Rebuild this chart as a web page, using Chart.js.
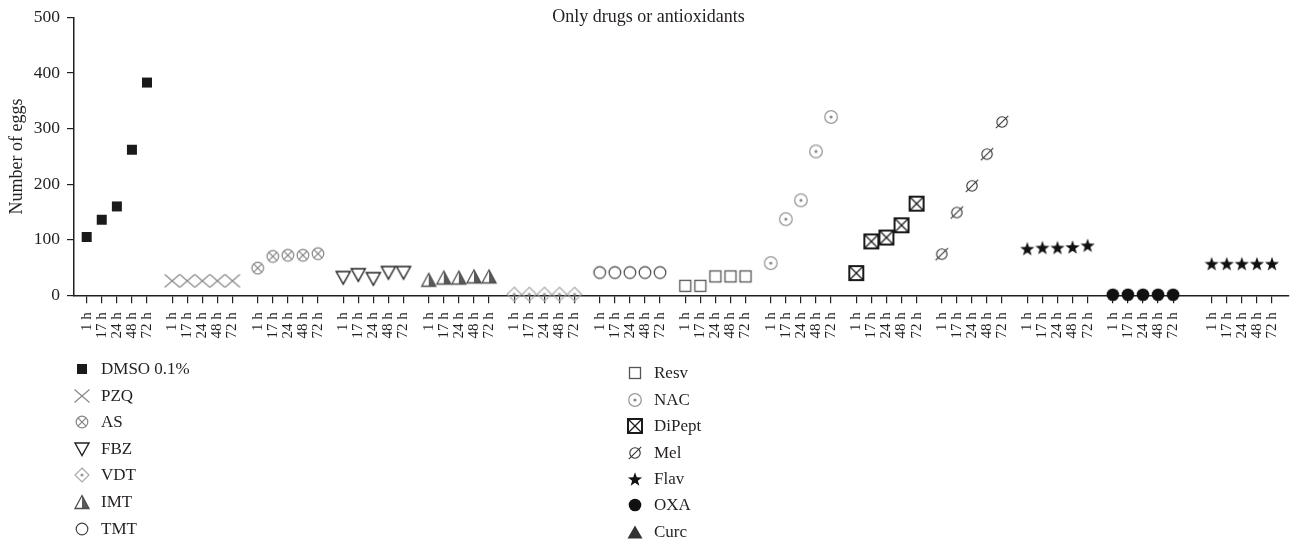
<!DOCTYPE html>
<html>
<head>
<meta charset="utf-8">
<title>Only drugs or antioxidants</title>
<script src="https://cdn.jsdelivr.net/npm/chart.js@4.4.1/dist/chart.umd.min.js"></script>
<style>
  body { margin: 0; background: #fff; }
  #wrap { position: relative; width: 1297px; height: 546px; font-family: "Liberation Serif", "DejaVu Serif", serif; color: #231f20; }
  #eggChart { position: absolute; left: 0; top: 0; }
  #title { position: absolute; left: 0; top: 5px; width: 1297px; text-align: center; font-size: 18px; line-height: 22px; }
  .leg { position: absolute; font-size: 17px; line-height: 20px; white-space: nowrap; }
</style>
</head>
<body>
<div id="wrap">
  <canvas id="eggChart" width="1297" height="546"></canvas>
  <div id="title">Only drugs or antioxidants</div>
  <div id="legend"></div>
</div>
<script>
// values (number of eggs)
const timeLabels = ['1 h', '17 h', '24 h', '48 h', '72 h'];
const seriesNames = ['DMSO 0.1%', 'PZQ', 'AS', 'FBZ', 'IMT', 'VDT', 'TMT', 'Resv', 'NAC', 'DiPept', 'Mel', 'Flav', 'OXA', 'Curc'];
const dmsoEggs = [105, 136, 160, 262, 383];
const pzqEggs = [26, 26, 26, 26, 26];
const asEggs = [49, 70, 72, 72, 75];
const fbzEggs = [32, 37, 30, 41, 41];
const imtEggs = [28, 32, 32, 34, 34];
const vdtEggs = [2, 2, 2, 2, 2];
const tmtEggs = [41, 41, 41, 41, 41];
const resvEggs = [17, 17, 34, 34, 34];
const nacEggs = [58, 137, 171, 259, 321];
const dipeptEggs = [40, 97, 104, 126, 165];
const melEggs = [74, 149, 197, 254, 312];
const flavEggs = [84, 86, 86, 87, 90];
const oxaEggs = [1, 1, 1, 1, 1];
const curcEggs = [57, 57, 57, 57, 57];
const yTicks = [0, 100, 200, 300, 400, 500];

const allEggs = [dmsoEggs, pzqEggs, asEggs, fbzEggs, imtEggs, vdtEggs, tmtEggs,
                 resvEggs, nacEggs, dipeptEggs, melEggs, flavEggs, oxaEggs, curcEggs];

// marker per series (the figure draws Curc with stars, its legend with a triangle)
const chartMarkers = ['fsquare', 'cross', 'ocross', 'dtri', 'htri', 'diamond', 'ocircle',
                      'osquare', 'dcircle', 'xsquare', 'slash', 'star', 'fcircle', 'star'];
const legendMarkers = ['fsquare', 'cross', 'ocross', 'dtri', 'htri', 'diamond', 'ocircle',
                       'osquare', 'dcircle', 'xsquare', 'slash', 'star', 'fcircle', 'ftri'];
const leftLegend = ['DMSO 0.1%', 'PZQ', 'AS', 'FBZ', 'VDT', 'IMT', 'TMT'];
const rightLegend = ['Resv', 'NAC', 'DiPept', 'Mel', 'Flav', 'OXA', 'Curc'];

// x axis layout, in "time step" units
const GROUP_STEP = 5.672;
const LAST_GROUP_EXTRA = 0.884;

function xPos(g, i) {
    const extra = g === allEggs.length - 1 ? LAST_GROUP_EXTRA : 0;
    return g * GROUP_STEP + extra + i;
}

function line(ctx, x1, y1, x2, y2) {
    ctx.beginPath();
    ctx.moveTo(x1, y1);
    ctx.lineTo(x2, y2);
    ctx.stroke();
}

function drawMarker(kind) {
    const c = document.createElement('canvas');
    c.width = 18;
    c.height = 18;
    const ctx = c.getContext('2d');
    ctx.translate(9, 9);
    switch (kind) {
        case 'fsquare':
            ctx.fillStyle = '#1a1a1a';
            ctx.fillRect(-5, -5, 10, 10);
            break;
        case 'cross':
            ctx.strokeStyle = '#8a8a8a';
            ctx.lineWidth = 1.2;
            line(ctx, -7.5, -6.5, 7.5, 6.5);
            line(ctx, -7.5, 6.5, 7.5, -6.5);
            break;
        case 'ocross':
            ctx.strokeStyle = '#858585';
            ctx.lineWidth = 1.2;
            ctx.beginPath();
            ctx.arc(0, 0, 5.8, 0, Math.PI * 2);
            ctx.stroke();
            line(ctx, -4.1, -4.1, 4.1, 4.1);
            line(ctx, -4.1, 4.1, 4.1, -4.1);
            break;
        case 'dtri':
            ctx.strokeStyle = '#231f20';
            ctx.lineWidth = 1.4;
            ctx.beginPath();
            ctx.moveTo(-7, -6);
            ctx.lineTo(7, -6);
            ctx.lineTo(0, 6.5);
            ctx.closePath();
            ctx.stroke();
            break;
        case 'htri':
            ctx.fillStyle = '#ffffff';
            ctx.beginPath();
            ctx.moveTo(0, -6.5); ctx.lineTo(-7, 6.5); ctx.lineTo(0, 6.5); ctx.closePath();
            ctx.fill();
            ctx.fillStyle = '#5a5a5a';
            ctx.beginPath();
            ctx.moveTo(0, -6.5); ctx.lineTo(7, 6.5); ctx.lineTo(0, 6.5); ctx.closePath();
            ctx.fill();
            ctx.strokeStyle = '#4d4d4d';
            ctx.lineWidth = 1.3;
            ctx.beginPath();
            ctx.moveTo(0, -6.5); ctx.lineTo(7, 6.5); ctx.lineTo(-7, 6.5); ctx.closePath();
            ctx.stroke();
            break;
        case 'diamond':
            ctx.strokeStyle = '#a8a8a8';
            ctx.lineWidth = 1.2;
            ctx.beginPath();
            ctx.moveTo(0, -7); ctx.lineTo(7, 0); ctx.lineTo(0, 7); ctx.lineTo(-7, 0); ctx.closePath();
            ctx.stroke();
            ctx.fillStyle = '#9a9a9a';
            ctx.beginPath();
            ctx.arc(0, 0, 1.6, 0, Math.PI * 2);
            ctx.fill();
            break;
        case 'ocircle':
            ctx.strokeStyle = '#444';
            ctx.lineWidth = 1.2;
            ctx.beginPath();
            ctx.arc(0, 0, 5.8, 0, Math.PI * 2);
            ctx.stroke();
            break;
        case 'osquare':
            ctx.strokeStyle = '#555';
            ctx.lineWidth = 1.3;
            ctx.strokeRect(-5.5, -5.5, 11, 11);
            break;
        case 'dcircle':
            ctx.strokeStyle = '#9a9a9a';
            ctx.lineWidth = 1.3;
            ctx.beginPath();
            ctx.arc(0, 0, 6.3, 0, Math.PI * 2);
            ctx.stroke();
            ctx.fillStyle = '#8a8a8a';
            ctx.beginPath();
            ctx.arc(0, 0, 1.6, 0, Math.PI * 2);
            ctx.fill();
            break;
        case 'xsquare':
            ctx.strokeStyle = '#1a1a1a';
            ctx.lineWidth = 2;
            ctx.strokeRect(-7, -7, 14, 14);
            ctx.lineWidth = 1.2;
            line(ctx, -6, -6, 6, 6);
            line(ctx, -6, 6, 6, -6);
            break;
        case 'slash':
            ctx.strokeStyle = '#333';
            ctx.lineWidth = 1.1;
            ctx.beginPath();
            ctx.arc(0, 0, 5.2, 0, Math.PI * 2);
            ctx.stroke();
            line(ctx, -6.2, 6.2, 6.2, -6.2);
            break;
        case 'star': {
            ctx.fillStyle = '#111';
            ctx.beginPath();
            for (let k = 0; k < 10; k++) {
                const r = k % 2 === 0 ? 7.4 : 3;
                const a = -Math.PI / 2 + k * Math.PI / 5;
                const px = r * Math.cos(a);
                const py = r * Math.sin(a) + 0.7;
                if (k === 0) ctx.moveTo(px, py); else ctx.lineTo(px, py);
            }
            ctx.closePath();
            ctx.fill();
            break;
        }
        case 'fcircle':
            ctx.fillStyle = '#111';
            ctx.beginPath();
            ctx.arc(0, 0, 6.3, 0, Math.PI * 2);
            ctx.fill();
            break;
        case 'ftri':
            ctx.fillStyle = '#333';
            ctx.beginPath();
            ctx.moveTo(0, -6.5); ctx.lineTo(7.5, 6.5); ctx.lineTo(-7.5, 6.5); ctx.closePath();
            ctx.fill();
            break;
    }
    return c;
}

const xTickValues = [];
allEggs.forEach((vals, g) => vals.forEach((v, i) => xTickValues.push(xPos(g, i))));

const datasets = allEggs.map((vals, g) => ({
    label: seriesNames[g],
    data: vals.map((v, i) => ({ x: xPos(g, i), y: v })),
    pointStyle: drawMarker(chartMarkers[g]),
    pointRadius: 7,
    showLine: false,
    clip: false
}));

const inkColor = '#231f20';

new Chart(document.getElementById('eggChart'), {
    type: 'scatter',
    data: { datasets: datasets },
    options: {
        responsive: false,
        animation: false,
        events: [],
        layout: { padding: { top: 17.3, right: 6, bottom: 200.7, left: 0 } },
        plugins: {
            legend: { display: false },
            tooltip: { enabled: false }
        },
        scales: {
            x: {
                type: 'linear',
                min: -0.84,
                max: 79.75,
                afterBuildTicks: axis => { axis.ticks = xTickValues.map(v => ({ value: v })); },
                afterFit: axis => {
                    axis.height = 50;
                    axis.paddingLeft = 0;
                    axis.paddingRight = 0;
                },
                border: { display: true, color: inkColor, width: 1.5 },
                grid: { display: true, drawOnChartArea: false, drawTicks: true, tickLength: 8, color: inkColor, lineWidth: 1.2 },
                ticks: {
                    autoSkip: false,
                    minRotation: 90,
                    maxRotation: 90,
                    padding: 9,
                    color: inkColor,
                    font: { family: 'Liberation Serif', size: 15 },
                    callback: (value, index) => timeLabels[index % timeLabels.length]
                }
            },
            y: {
                min: 0,
                max: 500,
                afterBuildTicks: axis => { axis.ticks = yTicks.map(v => ({ value: v })); },
                afterFit: axis => { axis.width = 74; },
                border: { display: true, color: inkColor, width: 1.5 },
                grid: { display: true, drawOnChartArea: false, drawTicks: true, tickLength: 7, color: inkColor, lineWidth: 1.2 },
                ticks: {
                    padding: 7,
                    color: inkColor,
                    font: { family: 'Liberation Serif', size: 17.5 }
                },
                title: {
                    display: true,
                    text: 'Number of eggs',
                    color: inkColor,
                    font: { family: 'Liberation Serif', size: 18 },
                    padding: { top: 6, bottom: 0 }
                }
            }
        }
    }
});

// two-column legend under the plot
const legendBox = document.getElementById('legend');

function addLegendColumn(names, markerX, textX, firstY, step) {
    names.forEach((name, k) => {
        const idx = seriesNames.indexOf(name);
        const cy = firstY + k * step;
        const mk = drawMarker(legendMarkers[idx]);
        mk.style.position = 'absolute';
        mk.style.left = (markerX - 9) + 'px';
        mk.style.top = (cy - 9) + 'px';
        legendBox.appendChild(mk);
        const label = document.createElement('div');
        label.className = 'leg';
        label.textContent = name;
        label.style.left = textX + 'px';
        label.style.top = (cy - 10) + 'px';
        legendBox.appendChild(label);
    });
}

addLegendColumn(leftLegend, 82, 101, 369, 26.6);
addLegendColumn(rightLegend, 635, 654, 373.3, 26.4);
</script>
</body>
</html>
